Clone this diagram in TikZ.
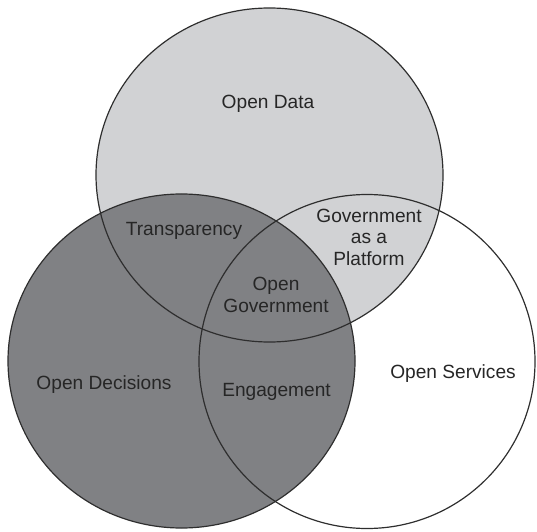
\documentclass[tikz,border=0pt]{standalone}
\usepackage{fontspec}
\setmainfont{Liberation Sans}
\definecolor{datafill}{HTML}{D1D2D4}
\definecolor{decfill}{HTML}{808184}
\definecolor{rim}{HTML}{2E2E2E}
\definecolor{ink}{HTML}{262626}
\newcommand{\RadX}{86.75bp}
\newcommand{\RadY}{83.5bp}

\begin{document}
\begin{tikzpicture}[x=0.5bp, y=-0.5bp,
    lbl/.style={font=\fontsize{9.6}{10.8}\selectfont, text=ink, align=center, inner sep=0pt},
    rimline/.style={draw=rim, line width=0.6pt}]
\useasboundingbox (0,0) rectangle (537,532);

% --- Centres of the three sets ------------------------------------------------
\coordinate (data) at (269.5,175);
\coordinate (decisions) at (181.5,361);
\coordinate (services) at (367,361.5);

% --- Fills: data under decisions, services left open ---------------------------
\fill[datafill] (data) ellipse [x radius=\RadX, y radius=\RadY];
\fill[decfill] (decisions) ellipse [x radius=\RadX, y radius=\RadY];

% --- Outlines on top ---------------------------------------------------------------
\foreach \c in {data, decisions} {
  \draw[rimline] (\c) ellipse [x radius=\RadX, y radius=\RadY];
}
\draw[rimline] (services) ellipse [x radius=84bp, y radius=\RadY];

% --- Labels --------------------------------------------------------------------------
\node[lbl] (opendata) at (268,104) {Open Data};
\node[lbl] (transp) at (184,231) {Transparency};
\node[lbl] (platform) at (369,237) {Government\\as a\\Platform};
\node[lbl] (opengov) at (276,295) {Open\\Government};
\node[lbl] (opendec) at (104,385) {Open Decisions};
\node[lbl] (engage) at (276.5,392) {Engagement};
\node[lbl] (openserv) at (453,374) {Open Services};

\end{tikzpicture}
\end{document}
